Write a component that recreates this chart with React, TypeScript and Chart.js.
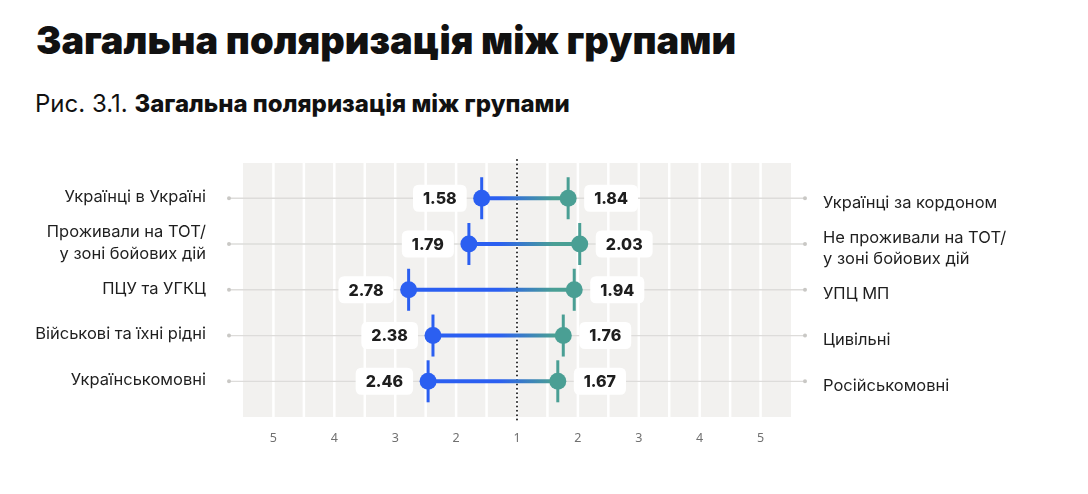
import React, { useEffect, useRef } from "react";
import { Chart, registerables } from "chart.js";

Chart.register(...registerables);

// ---- data ----
const leftGroups: string[][] = [
  ["Українці в Україні"],
  ["Проживали на ТОТ/", "у зоні бойових дій"],
  ["ПЦУ та УГКЦ"],
  ["Військові та їхні рідні"],
  ["Українськомовні"],
];
const rightGroups: string[][] = [
  ["Українці за кордоном"],
  ["Не проживали на ТОТ/", "у зоні бойових дій"],
  ["УПЦ МП"],
  ["Цивільні"],
  ["Російськомовні"],
];
const leftValues = [1.58, 1.79, 2.78, 2.38, 2.46];
const rightValues = [1.84, 2.03, 1.94, 1.76, 1.67];
const tickLabels = ["5", "4", "3", "2", "1", "2", "3", "4", "5"];

const TITLE = "Загальна поляризація між групами";
const FIG_PREFIX = "Рис. 3.1. ";
const FIG_TITLE = "Загальна поляризація між групами";

// ---- style ----
const BLUE = "#2B5FF1";
const TEAL = "#4A9F94";
const FONT = "Inter, 'DejaVu Sans', sans-serif";

// signed position on the mirrored axis: left side goes negative
const leftPos = (v: number) => 1 - v;
const rightPos = (v: number) => v - 1;

const rows = leftValues.map((_, i) => i);

const backgroundPlugin = {
  id: "bgGrid",
  beforeDatasetsDraw(chart: any) {
    const { ctx, chartArea, scales } = chart;
    const x = scales.x;
    const y = scales.y;
    ctx.save();
    ctx.fillStyle = "#F2F1EF";
    ctx.fillRect(chartArea.left, chartArea.top, chartArea.right - chartArea.left, chartArea.bottom - chartArea.top);
    // white separators every half unit
    ctx.strokeStyle = "#FFFFFF";
    ctx.lineWidth = 2.5;
    for (let u = x.min + 0.5; u < x.max - 0.01; u += 0.5) {
      const px = x.getPixelForValue(u);
      ctx.beginPath();
      ctx.moveTo(px, chartArea.top);
      ctx.lineTo(px, chartArea.bottom);
      ctx.stroke();
    }
    // connector lines for each row
    rows.forEach((i) => {
      const py = y.getPixelForValue(i);
      const x0 = chartArea.left - 14;
      const x1 = chartArea.right + 14;
      ctx.strokeStyle = "#DDDCDA";
      ctx.lineWidth = 1.3;
      ctx.beginPath();
      ctx.moveTo(x0, py);
      ctx.lineTo(x1, py);
      ctx.stroke();
      ctx.fillStyle = "#C9C8C5";
      ctx.beginPath();
      ctx.arc(x0, py, 2, 0, Math.PI * 2);
      ctx.arc(x1, py, 2, 0, Math.PI * 2);
      ctx.fill();
    });
    // dotted centre line
    const cx = x.getPixelForValue(0);
    ctx.strokeStyle = "#222";
    ctx.lineWidth = 2;
    ctx.lineCap = "round";
    ctx.setLineDash([0, 4.4]);
    ctx.beginPath();
    ctx.moveTo(cx, chartArea.top - 3);
    ctx.lineTo(cx, chartArea.bottom + 4);
    ctx.stroke();
    ctx.restore();
  },
};

function roundRect(ctx: CanvasRenderingContext2D, x: number, y: number, w: number, h: number, r: number) {
  ctx.beginPath();
  ctx.moveTo(x + r, y);
  ctx.lineTo(x + w - r, y);
  ctx.quadraticCurveTo(x + w, y, x + w, y + r);
  ctx.lineTo(x + w, y + h - r);
  ctx.quadraticCurveTo(x + w, y + h, x + w - r, y + h);
  ctx.lineTo(x + r, y + h);
  ctx.quadraticCurveTo(x, y + h, x, y + h - r);
  ctx.lineTo(x, y + r);
  ctx.quadraticCurveTo(x, y, x + r, y);
  ctx.closePath();
}

const valueBoxPlugin = {
  id: "valueBoxes",
  afterDatasetsDraw(chart: any) {
    const { ctx } = chart;
    const leftMeta = chart.getDatasetMeta(0);
    const rightMeta = chart.getDatasetMeta(1);
    ctx.save();
    ctx.font = `800 16px ${FONT}`;
    ctx.textBaseline = "middle";
    ctx.textAlign = "center";
    const h = 27;
    const draw = (el: any, v: number, side: "l" | "r") => {
      const txt = v.toFixed(2);
      const w = ctx.measureText(txt).width + 20;
      const bx = side === "l" ? el.x - 15 - w : el.x + 16;
      const by = el.y - h / 2;
      ctx.fillStyle = "#FFFFFF";
      roundRect(ctx, bx, by, w, h, 6);
      ctx.fill();
      ctx.fillStyle = "#1E1E1E";
      ctx.fillText(txt, bx + w / 2, el.y + 1);
    };
    leftMeta.data.forEach((el: any, i: number) => draw(el, leftValues[i], "l"));
    rightMeta.data.forEach((el: any, i: number) => draw(el, rightValues[i], "r"));
    ctx.restore();
  },
};

const gradientColor = (c: any) => {
  const chart = c.chart;
  const { ctx, chartArea, scales } = chart;
  if (!chartArea) return BLUE;
  const g = ctx.createLinearGradient(scales.x.getPixelForValue(-0.3), 0, scales.x.getPixelForValue(0.6), 0);
  g.addColorStop(0, BLUE);
  g.addColorStop(1, TEAL);
  return g;
};

export default function App() {
  const canvasRef = useRef<HTMLCanvasElement | null>(null);

  useEffect(() => {
    if (!canvasRef.current) return;
    const leftPts = rows.map((i) => ({ x: leftPos(leftValues[i]), y: i }));
    const rightPts = rows.map((i) => ({ x: rightPos(rightValues[i]), y: i }));

    const datasets: any[] = [
      { label: "left", data: leftPts, pointRadius: 8.5, pointBackgroundColor: BLUE, pointBorderWidth: 0, showLine: false, order: 0 },
      { label: "right", data: rightPts, pointRadius: 8.5, pointBackgroundColor: TEAL, pointBorderWidth: 0, showLine: false, order: 0 },
      { label: "leftTick", data: leftPts, pointStyle: "line", rotation: 90, pointRadius: 21, pointBorderColor: BLUE, pointBorderWidth: 3, showLine: false, order: 1 },
      { label: "rightTick", data: rightPts, pointStyle: "line", rotation: 90, pointRadius: 21, pointBorderColor: TEAL, pointBorderWidth: 3, showLine: false, order: 1 },
      ...rows.map((i) => ({
        label: "link" + i,
        data: [leftPts[i], rightPts[i]],
        showLine: true,
        borderWidth: 4,
        borderColor: gradientColor,
        pointRadius: 0,
        order: 2,
      })),
    ];

    const chart = new Chart(canvasRef.current, {
      type: "scatter",
      data: { datasets },
      options: {
        animation: false,
        responsive: false,
        maintainAspectRatio: false,
        layout: { padding: { top: 163, left: 0, right: 0, bottom: 0 } },
        plugins: { legend: { display: false }, tooltip: { enabled: false }, title: { display: false } },
        scales: {
          x: {
            type: "linear",
            min: -4.5,
            max: 4.5,
            afterBuildTicks: (s: any) => {
              s.ticks = tickLabels.map((_, k) => ({ value: k - 4 }));
            },
            afterFit: (s: any) => {
              s.height = 77;
            },
            ticks: {
              callback: (v: any) => tickLabels[Math.round(Number(v)) + 4],
              color: "#707070",
              font: { family: "'Noto Sans', sans-serif", size: 12.5 },
              padding: 14,
              maxRotation: 0,
              autoSkip: false,
            },
            grid: { display: false, drawTicks: false },
            border: { display: false },
          },
          y: {
            type: "linear",
            position: "left",
            reverse: true,
            min: -0.77,
            max: 4.78,
            afterBuildTicks: (s: any) => {
              s.ticks = rows.map((i) => ({ value: i }));
            },
            afterFit: (s: any) => {
              s.width = 243;
            },
            ticks: {
              callback: (v: any) => leftGroups[Math.round(Number(v))],
              color: "#1E1E1E",
              font: { family: FONT, size: 16.5, lineHeight: 1.32 },
              padding: 37,
              crossAlign: "near",
              labelOffset: -1,
              autoSkip: false,
            },
            grid: { display: false, drawTicks: false },
            border: { display: false },
          },
          y2: {
            type: "linear",
            position: "right",
            reverse: true,
            min: -0.77,
            max: 4.78,
            afterBuildTicks: (s: any) => {
              s.ticks = rows.map((i) => ({ value: i }));
            },
            afterFit: (s: any) => {
              s.width = 297;
            },
            ticks: {
              callback: (v: any) => rightGroups[Math.round(Number(v))],
              color: "#1E1E1E",
              font: { family: FONT, size: 16.5, lineHeight: 1.32 },
              padding: 32,
              crossAlign: "near",
              labelOffset: 4.5,
              autoSkip: false,
            },
            grid: { display: false, drawTicks: false },
            border: { display: false },
          },
        },
      } as any,
      plugins: [backgroundPlugin, valueBoxPlugin],
    });
    return () => chart.destroy();
  }, []);

  return (
    <div style={{ position: "absolute", left: 0, top: 0, width: 1088, height: 494, background: "#fff", overflow: "hidden" }}>
      <div
        style={{
          position: "absolute",
          left: 36,
          top: 21,
          fontFamily: FONT,
          fontWeight: 900,
          fontSize: 38,
          lineHeight: "38px",
          color: "#111",
          whiteSpace: "nowrap",
        }}
      >
        {TITLE}
      </div>
      <div
        style={{
          position: "absolute",
          left: 35,
          top: 92,
          fontFamily: FONT,
          fontSize: 24,
          lineHeight: "24px",
          color: "#111",
          whiteSpace: "nowrap",
        }}
      >
        <span style={{ fontWeight: 400 }}>{FIG_PREFIX}</span>
        <span style={{ fontWeight: 800 }}>{FIG_TITLE}</span>
      </div>
      <canvas ref={canvasRef} width={1088} height={494} style={{ position: "absolute", left: 0, top: 0, width: 1088, height: 494 }} />
    </div>
  );
}
